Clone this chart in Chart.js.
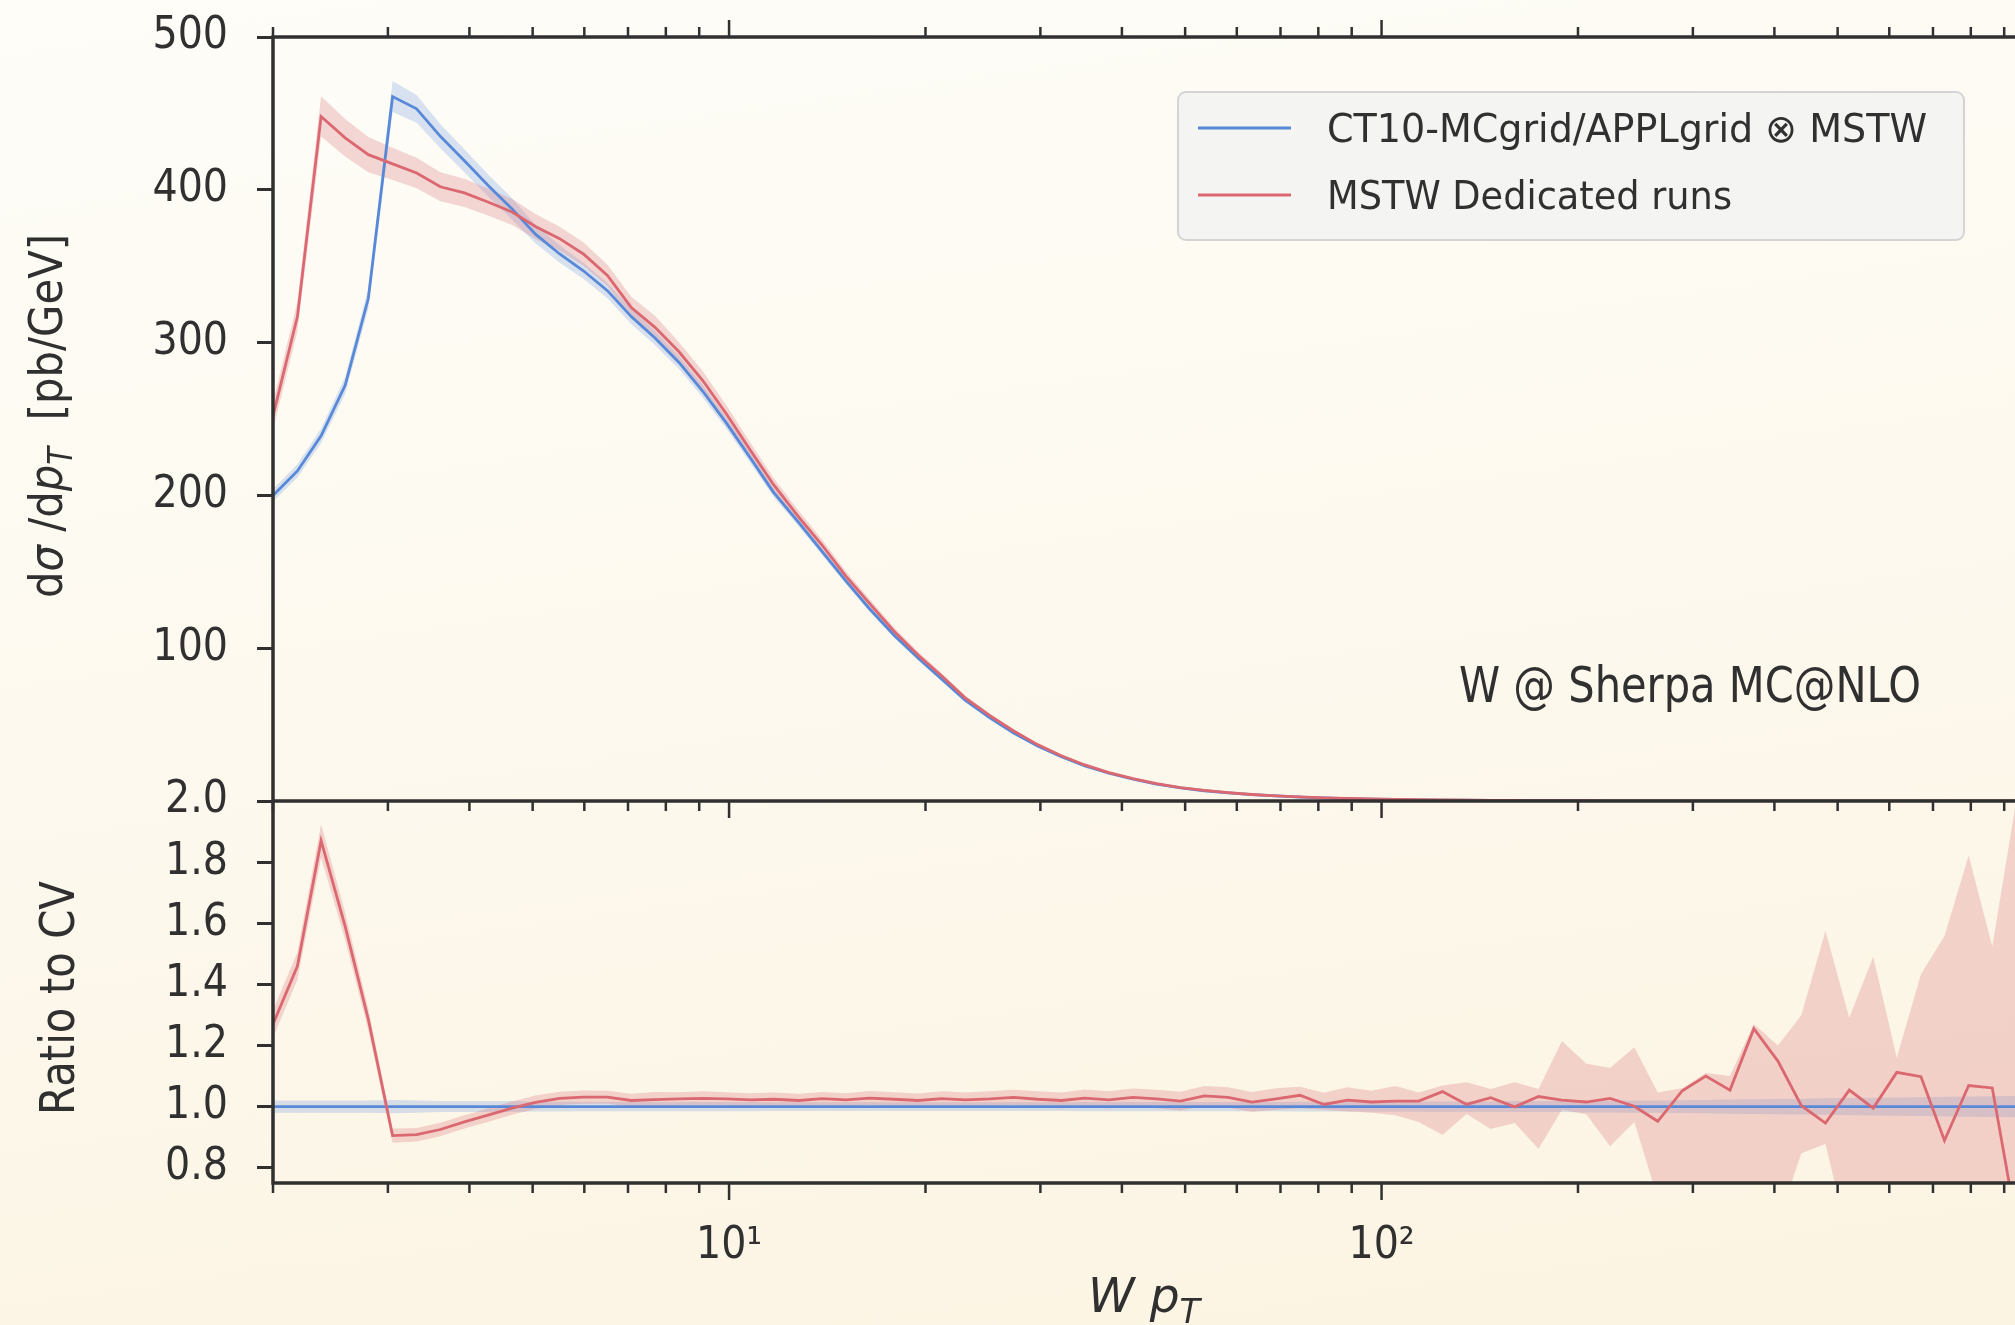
<!DOCTYPE html>
<html>
<head>
<meta charset="utf-8">
<title>W pT - CT10 MCgrid/APPLgrid vs MSTW</title>
<script src="https://cdn.jsdelivr.net/npm/chart.js@4.4.1/dist/chart.umd.min.js"></script>
<style>
  html, body { margin: 0; padding: 0; }
  body {
    width: 2015px; height: 1325px; overflow: hidden;
    background: linear-gradient(172deg, #fefdf8 0%, #fdf9ef 45%, #fcf4e2 100%);
  }
</style>
</head>
<body>
<canvas id="grafico" width="2015" height="1325"></canvas>
<script>
// W pT bins (GeV), log spaced
const ptBins = [
  2.00, 2.18, 2.37, 2.58, 2.80, 3.05, 3.32, 3.61, 3.93, 4.27,
  4.65, 5.05, 5.50, 5.98, 6.51, 7.08, 7.70, 8.38, 9.12, 9.92,
  10.8, 11.7, 12.8, 13.9, 15.1, 16.4, 17.9, 19.5, 21.2, 23.0,
  25.1, 27.3, 29.7, 32.3, 35.1, 38.2, 41.6, 45.2, 49.2, 53.5,
  58.2, 63.3, 68.9, 75.0, 81.6, 88.7, 96.5, 105, 114, 124,
  135, 147, 160, 174, 189, 206, 224, 244, 265, 289,
  314, 342, 372, 405, 440, 479, 521, 567, 616, 671,
  729, 794, 863, 939
];

// dsigma/dpT [pb/GeV], CT10-MCgrid/APPLgrid x MSTW (the CV)
const ct10Grid = [
  200, 216, 239, 272, 329, 461, 453, 435, 419, 403,
  387.5, 371, 358, 347, 334, 317, 303, 287, 268, 247,
  224, 202, 182, 163, 144, 126, 108.5, 93.5, 79.5, 66,
  54.5, 44.5, 36, 29, 23, 18.2, 14.3, 11.1, 8.6, 6.7,
  5.3, 4.2, 3.3, 2.6, 2.05, 1.62, 1.28, 1.01, 0.80, 0.63,
  0.50, 0.40, 0.315, 0.25, 0.198, 0.157, 0.124, 0.098, 0.078, 0.062,
  0.049, 0.039, 0.031, 0.0245, 0.0194, 0.0153, 0.0121, 0.0096, 0.0076, 0.0060,
  0.0047, 0.0037, 0.0029, 0.0023
];

// dsigma/dpT [pb/GeV], MSTW dedicated runs
const mstwRuns = [
  252, 317, 448, 434, 423, 417, 411, 402, 398, 392,
  385.5, 376, 368, 358, 344, 323, 310, 294, 275, 253,
  229, 207, 185.6, 167.2, 147.2, 129.5, 111.1, 95.4, 81.6, 67.5,
  55.9, 45.8, 36.9, 29.6, 23.6, 18.6, 14.7, 11.4, 8.75, 6.93,
  5.46, 4.26, 3.38, 2.70, 2.06, 1.65, 1.30, 1.03, 0.814, 0.661,
  0.504, 0.412, 0.315, 0.258, 0.202, 0.159, 0.127, 0.098, 0.0743, 0.0652,
  0.0539, 0.0411, 0.0389, 0.0282, 0.0195, 0.0145, 0.0128, 0.00955, 0.00845, 0.00659,
  0.00418, 0.00396, 0.00308, 0.00143
];

// CT10 grid uncertainty band, +/- percent
const ct10BandPct = [
  2.0, 2.0, 2.0, 2.0, 2.0, 2.2, 2.0, 1.8, 1.8, 1.8,
  1.8, 1.6, 1.6, 1.5, 1.5, 1.5, 1.5, 1.5, 1.5, 1.5,
  1.5, 1.4, 1.4, 1.4, 1.4, 1.4, 1.4, 1.4, 1.4, 1.4,
  1.4, 1.4, 1.4, 1.4, 1.5, 1.5, 1.5, 1.5, 1.5, 1.5,
  1.5, 1.5, 1.5, 1.6, 1.6, 1.6, 1.6, 1.6, 1.7, 1.7,
  1.7, 1.7, 1.8, 1.8, 1.8, 1.9, 1.9, 2.0, 2.0, 2.1,
  2.2, 2.3, 2.4, 2.5, 2.6, 2.7, 2.8, 2.9, 3.0, 3.1,
  3.2, 3.3, 3.4, 3.5
];

// MSTW dedicated runs / CV, with its band
const ratioMstw = [
  1.27, 1.46, 1.87, 1.59, 1.285, 0.905, 0.908, 0.925, 0.95, 0.972,
  0.995, 1.014, 1.027, 1.031, 1.031, 1.02, 1.023, 1.025, 1.027, 1.025,
  1.022, 1.024, 1.02, 1.026, 1.022, 1.028, 1.024, 1.02, 1.026, 1.022,
  1.025, 1.03, 1.024, 1.02, 1.028, 1.022, 1.03, 1.025, 1.018, 1.035,
  1.03, 1.015, 1.025, 1.037, 1.007, 1.021, 1.015, 1.018, 1.018, 1.049,
  1.007, 1.029, 0.999, 1.033, 1.021, 1.015, 1.027, 1.001, 0.952, 1.052,
  1.10, 1.054, 1.255, 1.149, 1.003, 0.946, 1.054, 0.995, 1.112, 1.098,
  0.889, 1.069, 1.061, 0.62
];
const ratioMstwLow = [
  1.225, 1.415, 1.815, 1.545, 1.25, 0.882, 0.886, 0.903, 0.928, 0.95,
  0.973, 0.992, 1.005, 1.009, 1.01, 0.998, 1.0, 1.003, 1.004, 1.003,
  1.0, 1.002, 0.998, 1.004, 1.0, 1.005, 1.001, 0.997, 1.002, 0.998,
  1.0, 1.005, 0.998, 0.994, 1.0, 0.994, 1.001, 0.995, 0.987, 1.003,
  0.997, 0.982, 0.99, 0.995, 0.99, 0.984, 0.98, 0.972, 0.95, 0.907,
  0.976, 0.927, 0.946, 0.862, 0.99, 0.975, 0.87, 0.95, 0.70, 0.60,
  0.55, 0.55, 0.55, 0.62, 0.847, 0.878, 0.55, 0.5, 0.5, 0.5,
  0.5, 0.5, 0.5, 0.3
];
const ratioMstwHigh = [
  1.315, 1.505, 1.925, 1.635, 1.32, 0.928, 0.93, 0.947, 0.972, 0.994,
  1.017, 1.036, 1.049, 1.053, 1.052, 1.042, 1.048, 1.047, 1.05, 1.047,
  1.044, 1.046, 1.042, 1.048, 1.044, 1.051, 1.047, 1.043, 1.05, 1.046,
  1.05, 1.055, 1.05, 1.046, 1.056, 1.05, 1.059, 1.055, 1.049, 1.067,
  1.063, 1.048, 1.06, 1.065, 1.045, 1.063, 1.052, 1.067, 1.046, 1.069,
  1.08, 1.058, 1.08, 1.058, 1.215, 1.14, 1.126, 1.194, 1.046, 1.06,
  1.11, 1.10, 1.27, 1.20, 1.30, 1.575, 1.291, 1.49, 1.16, 1.433,
  1.558, 1.822, 1.524, 2.0
];

// tick labels
const yTicksUpper = [100, 200, 300, 400, 500];
const yTicksRatio = [0.8, 1.0, 1.2, 1.4, 1.6, 1.8, 2.0];
const xTickValues = [10, 100];
const xTickLabels = ['10¹', '10²'];
const xMinorTicks = [2, 3, 4, 5, 6, 7, 8, 9, 20, 30, 40, 50, 60, 70, 80, 90,
                     200, 300, 400, 500, 600, 700, 800, 900];

const blue = '#5889d8';
const red = '#db6870';
const blueBand = 'rgba(80, 130, 220, 0.22)';
const redBand = 'rgba(215, 110, 120, 0.27)';
const ink = '#303030';
const textFont = '"DejaVu Sans", sans-serif';
const tickFont = '"DejaVu Sans Condensed", "Liberation Sans Narrow", "DejaVu Sans", sans-serif';

// band edges built from the arrays above
const ct10Hi = ct10Grid.map((v, i) => v * (1 + ct10BandPct[i] / 100));
const ct10Lo = ct10Grid.map((v, i) => v * (1 - ct10BandPct[i] / 100));
const mstwHi = mstwRuns.map((v, i) => v * ratioMstwHigh[i] / ratioMstw[i]);
const mstwLo = mstwRuns.map((v, i) => v * ratioMstwLow[i] / ratioMstw[i]);
const ct10Ratio = ct10Grid.map(v => v / v); // CV over itself
const ct10RatioHi = ct10BandPct.map(p => 1 + p / 100);
const ct10RatioLo = ct10BandPct.map(p => 1 - p / 100);

const pts = ys => ptBins.map((x, i) => ({ x, y: ys[i] }));

function lineSet(label, ys, color, axis, order, legend) {
  return {
    label, data: pts(ys), yAxisID: axis, order, inLegend: legend,
    borderColor: color, borderWidth: 2.8, pointRadius: 0, tension: 0, fill: false
  };
}
function bandSet(ys, color, axis, order, fill) {
  return {
    label: '', data: pts(ys), yAxisID: axis, order,
    borderWidth: 0, borderColor: 'rgba(0,0,0,0)', backgroundColor: color,
    pointRadius: 0, tension: 0, fill
  };
}

// spines and x tick marks (top, panel boundary, bottom)
const framePlugin = {
  id: 'frame',
  afterDatasetsDraw(chart) {
    const { ctx, chartArea: a, scales } = chart;
    const x = scales.x, yUp = scales.y, yLo = scales.y2;
    ctx.save();
    ctx.strokeStyle = ink;
    ctx.lineWidth = 2.5;
    const marks = xTickValues.map(v => [v, 17]).concat(xMinorTicks.map(v => [v, 10]));
    marks.forEach(([v, len]) => {
      const px = x.getPixelForValue(v);
      if (px < a.left - 1 || px > a.right + 1) return;
      [[yUp.top, -len], [yUp.bottom, len], [yLo.bottom, len]].forEach(([y0, d]) => {
        ctx.beginPath();
        ctx.moveTo(px, y0);
        ctx.lineTo(px, y0 + d);
        ctx.stroke();
      });
    });
    ctx.lineWidth = 3.5;
    ctx.beginPath();
    ctx.moveTo(a.right + 4, yUp.top);
    ctx.lineTo(a.left, yUp.top);
    ctx.lineTo(a.left, yLo.bottom);
    ctx.lineTo(a.right + 4, yLo.bottom);
    ctx.moveTo(a.left, yUp.bottom);
    ctx.lineTo(a.right + 4, yUp.bottom);
    ctx.stroke();
    ctx.restore();
  }
};

// text runs with italic / subscript parts, squeezed to a target width
function drawRich(ctx, parts, x, y, size, targetW, align) {
  ctx.save();
  ctx.translate(x, y);
  const fonts = parts.map(p => (p.it ? 'italic ' : '') + Math.round(size * (p.sub ? 0.7 : 1)) + 'px ' + textFont);
  let w = 0;
  const ws = parts.map((p, k) => {
    ctx.font = fonts[k];
    const m = ctx.measureText(p.t).width;
    w += m;
    return m;
  });
  ctx.scale(targetW ? targetW / w : 1, 1);
  let cx = align === 'center' ? -w / 2 : 0;
  ctx.textAlign = 'left';
  ctx.textBaseline = 'alphabetic';
  ctx.fillStyle = ink;
  parts.forEach((p, k) => {
    ctx.font = fonts[k];
    ctx.fillText(p.t, cx, p.sub ? size * 0.22 : 0);
    cx += ws[k];
  });
  ctx.restore();
}

const textPlugin = {
  id: 'texts',
  afterDraw(chart) {
    const { ctx, chartArea: a, scales } = chart;
    const yUp = scales.y, yLo = scales.y2;

    // axis titles
    ctx.save();
    ctx.translate(62, (yUp.top + yUp.bottom) / 2 - 3);
    ctx.rotate(-Math.PI / 2);
    drawRich(ctx, [
      { t: 'd' }, { t: 'σ', it: true }, { t: ' /d' }, { t: 'p', it: true },
      { t: 'T', it: true, sub: true }, { t: '  [pb/GeV]' }
    ], 0, 0, 47, 364, 'center');
    ctx.restore();

    ctx.save();
    ctx.translate(74, (yLo.top + yLo.bottom) / 2 + 6);
    ctx.rotate(-Math.PI / 2);
    drawRich(ctx, [{ t: 'Ratio to CV' }], 0, 0, 48, 234, 'center');
    ctx.restore();

    drawRich(ctx, [{ t: 'W', it: true }, { t: ' ' }, { t: 'p', it: true }, { t: 'T', it: true, sub: true }],
      (a.left + a.right) / 2, 1312, 48, 112, 'center');

    // annotation
    drawRich(ctx, [{ t: 'W @ Sherpa MC@NLO' }], a.right - 556, yUp.bottom - 99, 50, 462, 'left');

    // legend
    const items = chart.data.datasets.filter(d => d.inLegend);
    const bx = a.right - 837, by = a.top + 55, bw = 786, bh = 148;
    ctx.save();
    ctx.beginPath();
    ctx.roundRect(bx, by, bw, bh, 8);
    ctx.fillStyle = '#f4f4f3';
    ctx.fill();
    ctx.lineWidth = 2;
    ctx.strokeStyle = '#d4d4d4';
    ctx.stroke();
    items.forEach((d, k) => {
      const ly = by + 36 + k * 67;
      ctx.beginPath();
      ctx.moveTo(bx + 20, ly);
      ctx.lineTo(bx + 113, ly);
      ctx.strokeStyle = d.borderColor;
      ctx.lineWidth = 3;
      ctx.stroke();
      drawRich(ctx, [{ t: d.label }], bx + 149, ly + 14, 39, k === 0 ? 600 : 405, 'left');
    });
    ctx.restore();
  }
};

const ctx = document.getElementById('grafico').getContext('2d');

// stacked y axes: the one listed first ends up at the bottom
const gridMarks = { display: true, drawOnChartArea: false, drawTicks: true, tickLength: 16, tickWidth: 3, tickColor: ink };
// fixed axis sizes, no extra label padding pushing the plot area around
const fixWidth = s => { s.width = 273; s.paddingTop = 0; s.paddingBottom = 0; };

new Chart(ctx, {
  type: 'line',
  data: {
    datasets: [
      bandSet(ct10Hi, blueBand, 'y', 6, '+1'),
      bandSet(ct10Lo, blueBand, 'y', 6, false),
      bandSet(mstwHi, redBand, 'y', 5, '+1'),
      bandSet(mstwLo, redBand, 'y', 5, false),
      lineSet('CT10-MCgrid/APPLgrid ⊗ MSTW', ct10Grid, blue, 'y', 2, true),
      lineSet('MSTW Dedicated runs', mstwRuns, red, 'y', 1, true),
      bandSet(ct10RatioHi, blueBand, 'y2', 6, '+1'),
      bandSet(ct10RatioLo, blueBand, 'y2', 6, false),
      bandSet(ratioMstwHigh, redBand, 'y2', 5, '+1'),
      bandSet(ratioMstwLow, redBand, 'y2', 5, false),
      lineSet('CV', ct10Ratio, blue, 'y2', 2, false),
      lineSet('MSTW / CV', ratioMstw, red, 'y2', 1, false)
    ]
  },
  options: {
    responsive: false,
    devicePixelRatio: 1,
    animation: false,
    events: [],
    layout: { padding: { top: 37, right: 0, bottom: 0, left: 0 } },
    plugins: { legend: { display: false }, tooltip: { enabled: false } },
    scales: {
      x: {
        type: 'logarithmic',
        position: 'bottom',
        min: 2,
        max: 935,
        grid: { display: false },
        border: { display: false },
        afterBuildTicks: s => { s.ticks = xTickValues.map(v => ({ value: v, major: true })); },
        afterFit: s => { s.height = 142; s.paddingLeft = 0; s.paddingRight = 0; },
        ticks: {
          autoSkip: false,
          maxRotation: 0,
          padding: 29,
          color: ink,
          font: { family: tickFont, size: 44 },
          callback: v => xTickLabels[xTickValues.indexOf(v)]
        }
      },
      y2: {
        type: 'linear',
        position: 'left',
        stack: 'panels',
        stackWeight: 1,
        min: 0.75,
        max: 2.0,
        afterBuildTicks: s => { s.ticks = yTicksRatio.map(v => ({ value: v })); },
        afterFit: fixWidth,
        grid: gridMarks,
        border: { display: false },
        ticks: {
          autoSkip: false,
          padding: 29, color: ink, font: { family: tickFont, size: 44 },
          callback: v => v.toFixed(1)
        }
      },
      y: {
        type: 'linear',
        position: 'left',
        stack: 'panels',
        stackWeight: 2,
        min: 0,
        max: 500,
        afterBuildTicks: s => { s.ticks = yTicksUpper.map(v => ({ value: v })); },
        afterFit: fixWidth,
        grid: gridMarks,
        border: { display: false },
        ticks: { autoSkip: false, padding: 29, color: ink, font: { family: tickFont, size: 44 } }
      }
    }
  },
  plugins: [framePlugin, textPlugin]
});
</script>
</body>
</html>
